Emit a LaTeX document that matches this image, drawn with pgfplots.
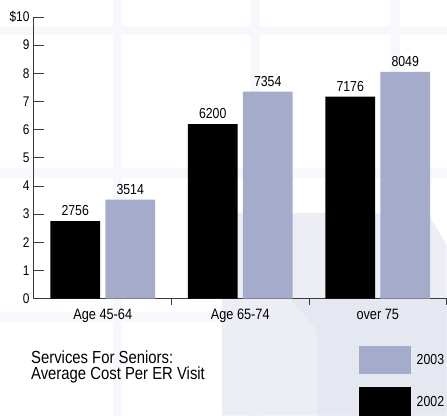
\documentclass[border=0pt]{standalone}
\usepackage{pgfplots}
\pgfplotsset{compat=1.18}
\usepackage{fontspec}
\setmainfont{Liberation Sans}[FakeStretch=0.85]

\definecolor{bar03}{HTML}{A4ABCB}
\definecolor{bandc}{HTML}{F7F8FB}
\definecolor{bgA}{HTML}{EDEEF5}
\definecolor{bgB}{HTML}{E6E8F1}
\definecolor{axisgray}{HTML}{3A3A3A}

\begin{document}
\begin{tikzpicture}
% background (pixel grid, y flipped)
\fill[white] (0pt,0pt) rectangle (447pt,416pt);
\fill[bandc] (113pt,0pt) rectangle (122pt,416pt);
\fill[bandc] (250pt,0pt) rectangle (260pt,416pt);
\fill[bandc] (390pt,0pt) rectangle (400pt,416pt);
\fill[bandc] (0pt,381pt) rectangle (447pt,390pt);
\fill[bandc] (0pt,238pt) rectangle (447pt,248pt);
\fill[bandc] (0pt,94pt) rectangle (447pt,104pt);
\fill[bgA] (222pt,203pt) -- (428pt,203pt) -- (447pt,171pt) -- (447pt,0pt) -- (222pt,0pt) -- cycle;
\fill[bgB] (290pt,117pt) -- (447pt,117pt) -- (447pt,0pt) -- (317pt,0pt) -- (317pt,86pt) -- cycle;

\begin{axis}[
    at={(34pt,117pt)}, anchor=south west,
    scale only axis, width=413pt, height=282pt,
    xmin=-0.5, xmax=2.5, ymin=0, ymax=10000,
    axis x line=bottom, axis y line=left,
    axis line style={-, draw=axisgray, line width=1pt},
    every tick/.style={draw=axisgray, line width=0.9pt},
    tick align=inside,
    major tick length=10pt, minor tick length=6pt,
    scaled y ticks=false,
    ytick={0,1000,...,10000},
    yticklabels={0,1,2,3,4,5,6,7,8,9,\$10},
    xtick={0,1,2},
    xticklabels={Age 45-64, Age 65-74, over 75},
    every major x tick/.append style={draw=none},
    minor xtick={0.5,1.5,2.5},
    yticklabel style={font=\fontsize{14}{16}\selectfont, xshift=-1pt},
    xticklabel style={font=\fontsize{15}{17}\selectfont, yshift=3pt},
    /pgf/number format/assume math mode=true,
    clip=false,
    ybar, bar width=0.362,
    nodes near coords={\pgfmathprintnumber[fixed,precision=0,1000 sep={}]{\pgfplotspointmeta}},
    every node near coord/.append style={font=\fontsize{14.5}{16}\selectfont, inner sep=0pt, yshift=5pt, anchor=south, black},
]
\addplot[fill=black, draw=none, bar shift=-0.2] coordinates {
    (0,2756) (1,6200) (2,7176)
};
\addplot[fill=bar03, draw=none, bar shift=0.2] coordinates {
    (0,3514) (1,7354) (2,8049)
};
\end{axis}

% caption
\node[anchor=north west, inner sep=0pt, align=left,
      font=\fontsize{17.5}{16.5}\selectfont] at (31pt,65pt)
      {Services For Seniors:\\Average Cost Per ER Visit};

% legend
\fill[bar03] (359pt,42pt) rectangle (411pt,70pt);
\node[anchor=west, inner sep=0pt, font=\fontsize{14.5}{16}\selectfont] at (417pt,56pt) {2003};
\fill[black] (359pt,0pt) rectangle (411pt,29pt);
\node[anchor=west, inner sep=0pt, font=\fontsize{14.5}{16}\selectfont] at (417pt,14pt) {2002};
\end{tikzpicture}
\end{document}
